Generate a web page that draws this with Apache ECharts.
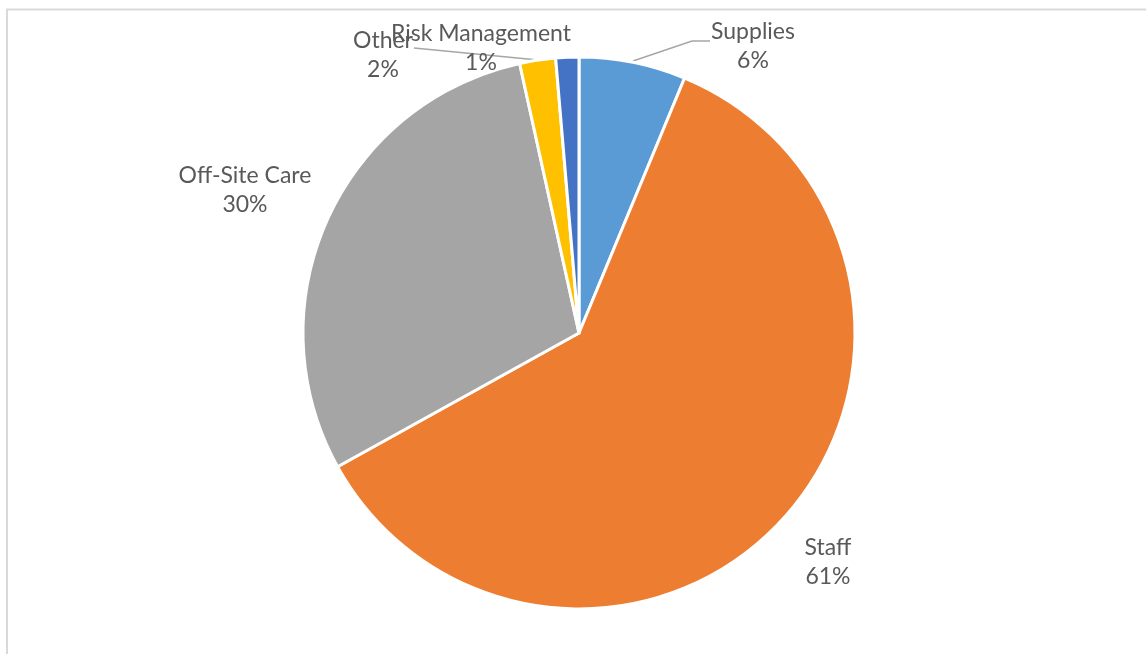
<!DOCTYPE html>
<html>
<head>
<meta charset="utf-8">
<script src="https://cdn.jsdelivr.net/npm/echarts@6/dist/echarts.min.js"></script>
<style>
    html, body { margin: 0; padding: 0; background: #fff; }
    #chart { width: 1146px; height: 654px; }
</style>
</head>
<body>
<div id="chart"></div>
<script>
// 数据
const categories = ['Supplies', 'Staff', 'Off-Site Care', 'Other', 'Risk Management'];
const values = [6.25, 60.7, 29.6, 2.1, 1.35];
const colors = ['#5B9BD5', '#ED7D31', '#A5A5A5', '#FFC000', '#4472C4'];

// 标签位置（文字块中心）
const labelPos = {
    'Supplies': [753, 46],
    'Staff': [828, 562],
    'Off-Site Care': [245, 190],
    'Other': [383, 55],
    'Risk Management': [481, 48]
};

const chart = echarts.init(document.getElementById('chart'));

const pieData = categories.map((name, i) => ({
    name: name,
    value: values[i],
    itemStyle: { color: colors[i] },
    labelLine: { show: name === 'Supplies' || name === 'Other' }
}));

const option = {
    animation: false,
    backgroundColor: '#fff',
    graphic: [{
        type: 'rect',
        shape: { x: 7, y: 9.5, width: 1300, height: 800 },
        style: { fill: 'none', stroke: '#d9d9d9', lineWidth: 2 },
        silent: true
    }],
    series: [{
        type: 'pie',
        center: [579, 333],
        radius: [0, 276],
        startAngle: 90,
        clockwise: true,
        percentPrecision: 0,
        itemStyle: { borderColor: '#fff', borderWidth: 3 },
        label: {
            show: true,
            position: 'outside',
            formatter: '{b}\n{d}%',
            fontFamily: 'Lato, "Open Sans", sans-serif',
            fontSize: 23,
            lineHeight: 29,
            color: '#595959',
            align: 'center'
        },
        labelLine: {
            lineStyle: { color: '#a6a6a6', width: 1.5 }
        },
        labelLayout: function (params) {
            const name = categories[params.dataIndex];
            const p = labelPos[name];
            const res = { x: p[0], y: p[1], align: 'center', verticalAlign: 'middle', hideOverlap: false, moveOverlap: false };
            if (name === 'Supplies') {
                res.labelLinePoints = [[633, 61], [692, 41], [710, 41]];
            } else if (name === 'Other') {
                res.labelLinePoints = [[538, 60], [476, 54], [414, 48]];
            }
            return res;
        },
        data: pieData
    }]
};

chart.setOption(option);
</script>
</body>
</html>
